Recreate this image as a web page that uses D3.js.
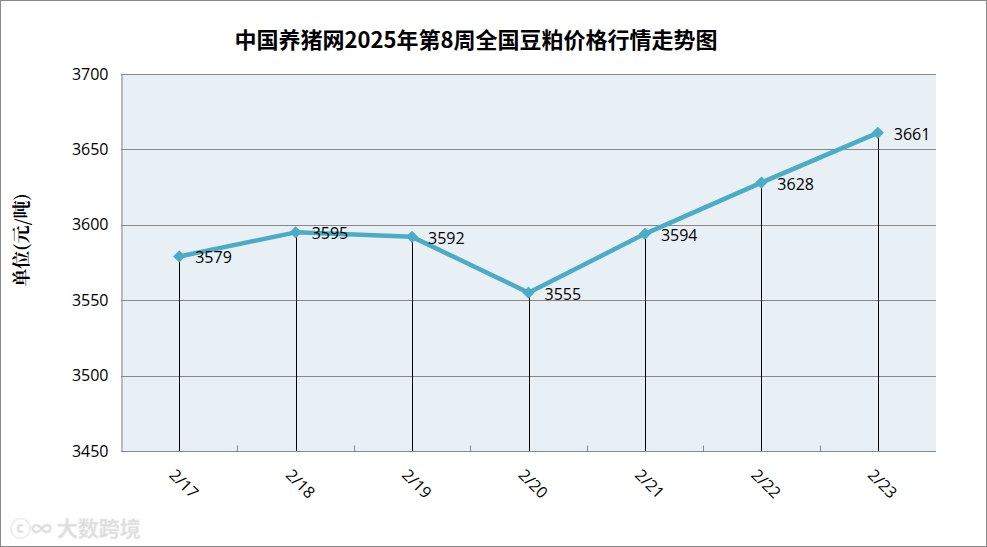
<!DOCTYPE html>
<html><head><meta charset="utf-8">
<script src="https://cdn.jsdelivr.net/npm/d3@7"></script>
<style>html,body{margin:0;padding:0;background:#fff;}</style>
</head><body>
<svg id="c" width="987" height="547"></svg>
<script>
const categories = ["2/17","2/18","2/19","2/20","2/21","2/22","2/23"];
const prices = [3579,3595,3592,3555,3594,3628,3661];
const yTicks = [3450,3500,3550,3600,3650,3700];
const titleText = "中国养猪网2025年第8周全国豆粕价格行情走势图";
const yTitle = "单位(元/吨)";

const svg = d3.select("#c");
svg.append("rect").attr("x",0.5).attr("y",0.5).attr("width",986).attr("height",546)
  .attr("fill","#fff").attr("stroke","#888");

const L=121, R=936, T=74, B=451;
const FONT = "'Open Sans',Calibri,sans-serif";
const x = d3.scaleBand().domain(categories).range([L,R]);
const y = d3.scaleLinear().domain([3450,3700]).range([B,T]);

svg.append("rect").attr("x",L).attr("y",T).attr("width",R-L).attr("height",B-T).attr("fill","#E9F0F5");

// gridlines
svg.append("g").selectAll("line").data(yTicks.slice(1)).join("line")
  .attr("x1",L).attr("x2",R).attr("y1",d=>Math.round(y(d))+0.5).attr("y2",d=>Math.round(y(d))+0.5)
  .attr("stroke","#888").attr("stroke-width",1);

// y axis
const yAxis = svg.append("g").attr("transform",`translate(${L+0.5},0)`)
  .call(d3.axisLeft(y).tickValues(yTicks).tickSize(0).tickPadding(13).tickFormat(d3.format("d")));
yAxis.select(".domain").attr("stroke","#888");
yAxis.selectAll("text").attr("font-family",FONT).attr("font-size",16).attr("fill","#000");

// x axis with ticks at band boundaries
const xb = svg.append("g").attr("transform",`translate(0,${B+0.5})`);
xb.append("line").attr("x1",L).attr("x2",R).attr("stroke","#888");
const bounds = categories.map(c=>x(c)).slice(1);
xb.selectAll("line.tk").data(bounds).join("line").attr("class","tk")
  .attr("x1",d=>Math.round(d)+0.5).attr("x2",d=>Math.round(d)+0.5).attr("y1",0).attr("y2",-6).attr("stroke","#888");

// x labels
svg.append("g").selectAll("text").data(categories).join("text")
  .attr("transform",d=>`translate(${x(d)+x.bandwidth()/2-11},${B+25}) rotate(45)`)
  .attr("font-family",FONT).attr("font-size",16).attr("fill","#000")
  .text(d=>d);

const cx = d=>x(d)+x.bandwidth()/2;

// drop lines
svg.append("g").selectAll("line").data(categories).join("line")
  .attr("x1",d=>Math.round(cx(d))+0.5).attr("x2",d=>Math.round(cx(d))+0.5)
  .attr("y1",(d,i)=>y(prices[i])).attr("y2",B).attr("stroke","#000").attr("stroke-width",1);

// line
const line = d3.line().x((d,i)=>cx(categories[i])).y(d=>y(d));
svg.append("path").datum(prices).attr("d",line).attr("fill","none")
  .attr("stroke","#4BACC6").attr("stroke-width",4.5).attr("stroke-linejoin","round");

// markers
svg.append("g").selectAll("path").data(prices).join("path")
  .attr("d",d3.symbol(d3.symbolDiamond2,95))
  .attr("transform",(d,i)=>`translate(${cx(categories[i])},${y(d)})`)
  .attr("fill","#4BACC6");

// data labels
svg.append("g").selectAll("text").data(prices).join("text")
  .attr("x",(d,i)=>cx(categories[i])+16).attr("y",d=>y(d)+7)
  .attr("font-family",FONT).attr("font-size",16).attr("fill","#000")
  .text(d=>d);

// title
svg.append("text").attr("x",476).attr("y",48).attr("text-anchor","middle")
  .attr("font-family","'Noto Sans CJK SC',sans-serif").attr("font-weight","bold").attr("font-size",22)
  .attr("fill","#000").text(titleText);

// y title
svg.append("text").attr("transform","translate(28,240) rotate(-90)").attr("text-anchor","middle")
  .attr("font-family","'Noto Serif CJK SC','Noto Sans CJK SC',serif").attr("font-weight","bold").attr("font-size",18)
  .attr("fill","#000").text(yTitle);

// watermark
svg.append("text").attr("x",10).attr("y",536)
  .attr("font-family","'Noto Sans CJK SC',sans-serif").attr("font-weight","bold").attr("font-size",21)
  .attr("fill","#ddd").attr("stroke","#eee").attr("stroke-width",0.5).text("ⓒ∞ 大数跨境");
</script>
</body></html>
